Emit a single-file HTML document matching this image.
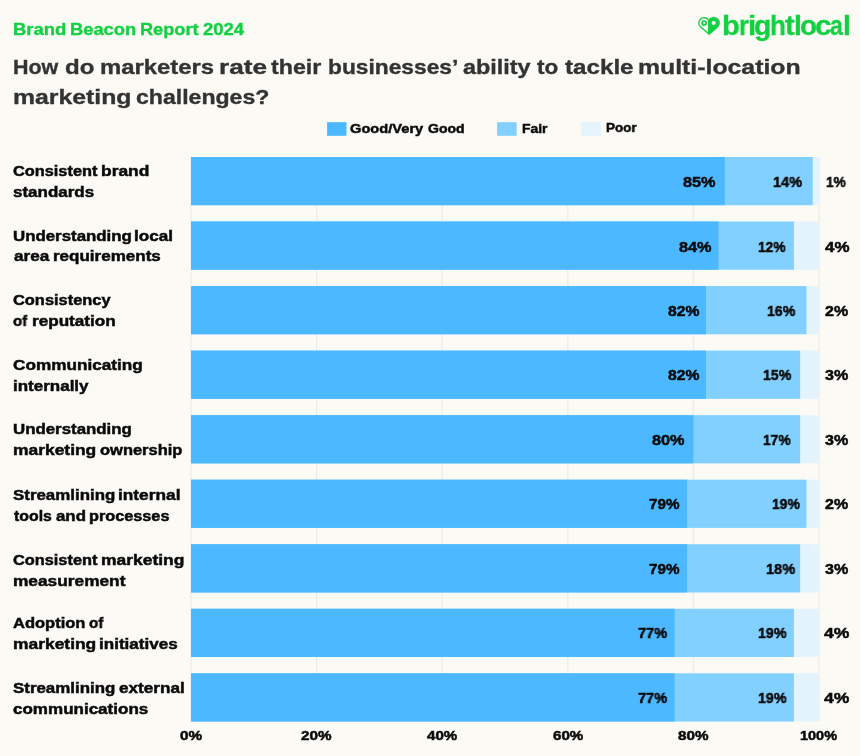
<!DOCTYPE html><html><head><meta charset="utf-8"><title>Brand Beacon Report 2024</title><style>
html,body{margin:0;padding:0}
body{width:860px;height:756px;background:#fbfaf5;position:relative;overflow:hidden;font-family:"Liberation Sans",sans-serif;}
.t{will-change:transform;position:absolute;white-space:nowrap;line-height:1;transform-origin:0 0;font-weight:700;}
.b{position:absolute;}
.g{position:absolute;width:1px;background:#ecebe7;top:157px;height:564.5px}
</style></head><body>
<svg class="b" style="left:0;top:0" width="860" height="756" viewBox="0 0 860 756">
<rect x="190.40" y="157" width="1.2" height="564.4" fill="#ecebe7"/>
<rect x="316.00" y="157" width="1.2" height="564.4" fill="#ecebe7"/>
<rect x="441.60" y="157" width="1.2" height="564.4" fill="#ecebe7"/>
<rect x="567.20" y="157" width="1.2" height="564.4" fill="#ecebe7"/>
<rect x="692.80" y="157" width="1.2" height="564.4" fill="#ecebe7"/>
<rect x="818.40" y="157" width="1.2" height="564.4" fill="#ecebe7"/>
<path d="M191.00 157.00H816.20Q818.70 157.00 818.70 159.50V202.70Q818.70 205.20 816.20 205.20H191.00Z" fill="#e3f4ff"/>
<rect x="191.00" y="157.00" width="621.72" height="48.2" fill="#82d0ff"/>
<rect x="191.00" y="157.00" width="533.80" height="48.2" fill="#4bb8ff"/>
<path d="M191.00 221.54H816.20Q818.70 221.54 818.70 224.04V267.24Q818.70 269.74 816.20 269.74H191.00Z" fill="#e3f4ff"/>
<rect x="191.00" y="221.54" width="602.88" height="48.2" fill="#82d0ff"/>
<rect x="191.00" y="221.54" width="527.52" height="48.2" fill="#4bb8ff"/>
<path d="M191.00 286.08H816.20Q818.70 286.08 818.70 288.58V331.78Q818.70 334.28 816.20 334.28H191.00Z" fill="#e3f4ff"/>
<rect x="191.00" y="286.08" width="615.44" height="48.2" fill="#82d0ff"/>
<rect x="191.00" y="286.08" width="514.96" height="48.2" fill="#4bb8ff"/>
<path d="M191.00 350.62H816.20Q818.70 350.62 818.70 353.12V396.32Q818.70 398.82 816.20 398.82H191.00Z" fill="#e3f4ff"/>
<rect x="191.00" y="350.62" width="609.16" height="48.2" fill="#82d0ff"/>
<rect x="191.00" y="350.62" width="514.96" height="48.2" fill="#4bb8ff"/>
<path d="M191.00 415.16H816.20Q818.70 415.16 818.70 417.66V460.86Q818.70 463.36 816.20 463.36H191.00Z" fill="#e3f4ff"/>
<rect x="191.00" y="415.16" width="609.16" height="48.2" fill="#82d0ff"/>
<rect x="191.00" y="415.16" width="502.40" height="48.2" fill="#4bb8ff"/>
<path d="M191.00 479.70H816.20Q818.70 479.70 818.70 482.20V525.40Q818.70 527.90 816.20 527.90H191.00Z" fill="#e3f4ff"/>
<rect x="191.00" y="479.70" width="615.44" height="48.2" fill="#82d0ff"/>
<rect x="191.00" y="479.70" width="496.12" height="48.2" fill="#4bb8ff"/>
<path d="M191.00 544.24H816.20Q818.70 544.24 818.70 546.74V589.94Q818.70 592.44 816.20 592.44H191.00Z" fill="#e3f4ff"/>
<rect x="191.00" y="544.24" width="609.16" height="48.2" fill="#82d0ff"/>
<rect x="191.00" y="544.24" width="496.12" height="48.2" fill="#4bb8ff"/>
<path d="M191.00 608.78H816.20Q818.70 608.78 818.70 611.28V654.48Q818.70 656.98 816.20 656.98H191.00Z" fill="#e3f4ff"/>
<rect x="191.00" y="608.78" width="602.88" height="48.2" fill="#82d0ff"/>
<rect x="191.00" y="608.78" width="483.56" height="48.2" fill="#4bb8ff"/>
<path d="M191.00 673.32H816.20Q818.70 673.32 818.70 675.82V719.02Q818.70 721.52 816.20 721.52H191.00Z" fill="#e3f4ff"/>
<rect x="191.00" y="673.32" width="602.88" height="48.2" fill="#82d0ff"/>
<rect x="191.00" y="673.32" width="483.56" height="48.2" fill="#4bb8ff"/>
</svg>
<svg class="b" style="left:0;top:110px" width="860" height="40" viewBox="0 110 860 40">
<rect x="327.1" y="122.2" width="19.4" height="13.6" fill="#4bb8ff"/>
<rect x="497.1" y="122.2" width="19.5" height="13.6" fill="#82d0ff"/>
<rect x="581.2" y="122.2" width="19.7" height="13.6" fill="#e3f4ff"/>
</svg>
<svg class="b" style="left:694px;top:12px" width="30" height="28" viewBox="694 12 30 28">
<path d="M708.75 20.36 A5.30 5.30 0 1 0 700.67 26.94 L708.75 33.80 Z" fill="none" stroke="#12d141" stroke-width="1.4" stroke-linejoin="round"/>
<circle cx="704.1" cy="23.0" r="2.0" fill="none" stroke="#12d141" stroke-width="1.7"/>
<path d="M708.90 19.30 A6.0 6.0 0 1 1 717.69 27.38 L708.90 35.20 Z" fill="#12d141" stroke="#12d141" stroke-width="0.3" stroke-linejoin="round"/>
<circle cx="713.7" cy="23.0" r="2.1" fill="#fbfaf5"/>
</svg>
<div class="t" id="t0" style="left:13.40px;top:21.00px;font-size:17px;color:#12d141;-webkit-text-stroke:0.35px #12d141;letter-spacing:0px;transform:scaleX(1.0846)">Brand </div>
<div class="t" id="t1" style="left:70.44px;top:21.00px;font-size:17px;color:#12d141;-webkit-text-stroke:0.35px #12d141;letter-spacing:0px;transform:scaleX(1.0777)">Beacon </div>
<div class="t" id="t2" style="left:139.99px;top:21.00px;font-size:17px;color:#12d141;-webkit-text-stroke:0.35px #12d141;letter-spacing:0px;transform:scaleX(1.0678)">Report </div>
<div class="t" id="t3" style="left:203.20px;top:21.00px;font-size:17px;color:#12d141;-webkit-text-stroke:0.35px #12d141;letter-spacing:0px;transform:scaleX(1.0883)">2024 </div>
<div class="t" id="t4" style="left:12.73px;top:56.00px;font-size:21px;color:#333;-webkit-text-stroke:0.35px #333;letter-spacing:0px;transform:scaleX(1.0212)">How </div>
<div class="t" id="t5" style="left:65.35px;top:56.00px;font-size:21px;color:#333;-webkit-text-stroke:0.35px #333;letter-spacing:0px;transform:scaleX(1.1459)">do </div>
<div class="t" id="t6" style="left:100.05px;top:56.00px;font-size:21px;color:#333;-webkit-text-stroke:0.35px #333;letter-spacing:0px;transform:scaleX(1.1364)">marketers </div>
<div class="t" id="t7" style="left:219.04px;top:56.00px;font-size:21px;color:#333;-webkit-text-stroke:0.35px #333;letter-spacing:0px;transform:scaleX(1.2472)">rate </div>
<div class="t" id="t8" style="left:271.04px;top:56.00px;font-size:21px;color:#333;-webkit-text-stroke:0.35px #333;letter-spacing:0px;transform:scaleX(1.1059)">their </div>
<div class="t" id="t9" style="left:327.77px;top:56.00px;font-size:21px;color:#333;-webkit-text-stroke:0.35px #333;letter-spacing:0px;transform:scaleX(1.0840)">businesses’ </div>
<div class="t" id="t10" style="left:463.02px;top:56.00px;font-size:21px;color:#333;-webkit-text-stroke:0.35px #333;letter-spacing:0px;transform:scaleX(1.1146)">ability </div>
<div class="t" id="t11" style="left:537.34px;top:56.00px;font-size:21px;color:#333;-webkit-text-stroke:0.35px #333;letter-spacing:0px;transform:scaleX(1.0722)">to </div>
<div class="t" id="t12" style="left:564.94px;top:56.00px;font-size:21px;color:#333;-webkit-text-stroke:0.35px #333;letter-spacing:0px;transform:scaleX(1.1515)">tackle </div>
<div class="t" id="t13" style="left:637.90px;top:56.00px;font-size:21px;color:#333;-webkit-text-stroke:0.35px #333;letter-spacing:0px;transform:scaleX(1.1814)">multi-location </div>
<div class="t" id="t14" style="left:12.66px;top:86.00px;font-size:21px;color:#333;-webkit-text-stroke:0.35px #333;letter-spacing:0px;transform:scaleX(1.1808)">marketing </div>
<div class="t" id="t15" style="left:136.19px;top:86.00px;font-size:21px;color:#333;-webkit-text-stroke:0.35px #333;letter-spacing:0px;transform:scaleX(1.0990)">challenges? </div>
<div class="t" id="t16" style="left:722.43px;top:12.00px;font-size:27.5px;color:#12d141;-webkit-text-stroke:0.3px #12d141;letter-spacing:0px;transform:scaleX(1.0604)">b </div>
<div class="t" id="t17" style="left:738.97px;top:12.00px;font-size:27.5px;color:#12d141;-webkit-text-stroke:0.3px #12d141;letter-spacing:0px;transform:scaleX(0.9175)">r </div>
<div class="t" id="t18" style="left:747.55px;top:12.00px;font-size:27.5px;color:#12d141;-webkit-text-stroke:0.3px #12d141;letter-spacing:0px;transform:scaleX(1.0766)">i </div>
<div class="t" id="t19" style="left:754.22px;top:12.00px;font-size:27.5px;color:#12d141;-webkit-text-stroke:0.3px #12d141;letter-spacing:0px;transform:scaleX(1.0309)">g </div>
<div class="t" id="t20" style="left:769.83px;top:12.00px;font-size:27.5px;color:#12d141;-webkit-text-stroke:0.3px #12d141;letter-spacing:0px;transform:scaleX(0.9480)">h </div>
<div class="t" id="t21" style="left:784.73px;top:12.00px;font-size:27.5px;color:#12d141;-webkit-text-stroke:0.3px #12d141;letter-spacing:0px;transform:scaleX(1.0635)">t </div>
<div class="t" id="t22" style="left:793.98px;top:12.00px;font-size:27.5px;color:#12d141;-webkit-text-stroke:0.3px #12d141;letter-spacing:0px;transform:scaleX(1.0363)">l </div>
<div class="t" id="t23" style="left:799.54px;top:12.00px;font-size:27.5px;color:#12d141;-webkit-text-stroke:0.3px #12d141;letter-spacing:0px;transform:scaleX(1.0154)">o </div>
<div class="t" id="t24" style="left:815.23px;top:12.00px;font-size:27.5px;color:#12d141;-webkit-text-stroke:0.3px #12d141;letter-spacing:0px;transform:scaleX(1.0885)">c </div>
<div class="t" id="t25" style="left:830.08px;top:12.00px;font-size:27.5px;color:#12d141;-webkit-text-stroke:0.3px #12d141;letter-spacing:0px;transform:scaleX(0.8363)">a </div>
<div class="t" id="t26" style="left:842.98px;top:12.00px;font-size:27.5px;color:#12d141;-webkit-text-stroke:0.3px #12d141;letter-spacing:0px;transform:scaleX(1.0363)">l </div>
<div class="t" id="t27" style="left:349.60px;top:122.00px;font-size:13.5px;color:#0a0a0a;-webkit-text-stroke:0.5px #0a0a0a;letter-spacing:0px;transform:scaleX(1.0846)">Good/Very </div>
<div class="t" id="t28" style="left:427.79px;top:122.00px;font-size:13.5px;color:#0a0a0a;-webkit-text-stroke:0.5px #0a0a0a;letter-spacing:0px;transform:scaleX(1.0400)">Good </div>
<div class="t" id="t29" style="left:521.73px;top:122.00px;font-size:13.5px;color:#0a0a0a;-webkit-text-stroke:0.5px #0a0a0a;letter-spacing:0px;transform:scaleX(1.0310)">Fair </div>
<div class="t" id="t30" style="left:606.29px;top:121.00px;font-size:13.5px;color:#0a0a0a;-webkit-text-stroke:0.5px #0a0a0a;letter-spacing:0px;transform:scaleX(0.9941)">Poor </div>
<div class="t" id="t31" style="left:13.43px;top:163.00px;font-size:15.5px;color:#0a0a0a;-webkit-text-stroke:0.5px #0a0a0a;letter-spacing:0px;transform:scaleX(1.0536)">Consistent </div>
<div class="t" id="t32" style="left:101.27px;top:163.00px;font-size:15.5px;color:#0a0a0a;-webkit-text-stroke:0.5px #0a0a0a;letter-spacing:0px;transform:scaleX(1.1226)">brand </div>
<div class="t" id="t33" style="left:13.04px;top:184.00px;font-size:15.5px;color:#0a0a0a;-webkit-text-stroke:0.5px #0a0a0a;letter-spacing:0px;transform:scaleX(1.0945)">standards </div>
<div class="t" id="t34" style="left:682.84px;top:174.00px;font-size:15px;color:#0a0a0a;-webkit-text-stroke:0.5px #0a0a0a;letter-spacing:0px;transform:scaleX(1.0838)">85% </div>
<div class="t" id="t35" style="left:773.29px;top:174.00px;font-size:15px;color:#0a0a0a;-webkit-text-stroke:0.5px #0a0a0a;letter-spacing:0px;transform:scaleX(0.9679)">14% </div>
<div class="t" id="t36" style="left:826.00px;top:174.00px;font-size:15px;color:#0a0a0a;-webkit-text-stroke:0.5px #0a0a0a;letter-spacing:0px;transform:scaleX(0.9184)">1% </div>
<div class="t" id="t37" style="left:13.08px;top:228.00px;font-size:15.5px;color:#0a0a0a;-webkit-text-stroke:0.5px #0a0a0a;letter-spacing:0px;transform:scaleX(1.0868)">Understanding </div>
<div class="t" id="t38" style="left:134.03px;top:228.00px;font-size:15.5px;color:#0a0a0a;-webkit-text-stroke:0.5px #0a0a0a;letter-spacing:0px;transform:scaleX(1.1034)">local </div>
<div class="t" id="t39" style="left:13.55px;top:248.00px;font-size:15.5px;color:#0a0a0a;-webkit-text-stroke:0.5px #0a0a0a;letter-spacing:0px;transform:scaleX(1.1082)">area </div>
<div class="t" id="t40" style="left:52.98px;top:248.00px;font-size:15.5px;color:#0a0a0a;-webkit-text-stroke:0.5px #0a0a0a;letter-spacing:0px;transform:scaleX(1.0976)">requirements </div>
<div class="t" id="t41" style="left:678.60px;top:239.00px;font-size:15px;color:#0a0a0a;-webkit-text-stroke:0.5px #0a0a0a;letter-spacing:0px;transform:scaleX(1.0838)">84% </div>
<div class="t" id="t42" style="left:757.94px;top:239.00px;font-size:15px;color:#0a0a0a;-webkit-text-stroke:0.5px #0a0a0a;letter-spacing:0px;transform:scaleX(0.9154)">12% </div>
<div class="t" id="t43" style="left:825.12px;top:239.00px;font-size:15px;color:#0a0a0a;-webkit-text-stroke:0.5px #0a0a0a;letter-spacing:0px;transform:scaleX(1.1304)">4% </div>
<div class="t" id="t44" style="left:13.36px;top:292.00px;font-size:15.5px;color:#0a0a0a;-webkit-text-stroke:0.5px #0a0a0a;letter-spacing:0px;transform:scaleX(1.0582)">Consistency </div>
<div class="t" id="t45" style="left:13.46px;top:313.00px;font-size:15.5px;color:#0a0a0a;-webkit-text-stroke:0.5px #0a0a0a;letter-spacing:0px;transform:scaleX(0.9652)">of </div>
<div class="t" id="t46" style="left:31.62px;top:313.00px;font-size:15.5px;color:#0a0a0a;-webkit-text-stroke:0.5px #0a0a0a;letter-spacing:0px;transform:scaleX(1.1052)">reputation </div>
<div class="t" id="t47" style="left:668.35px;top:303.00px;font-size:15px;color:#0a0a0a;-webkit-text-stroke:0.5px #0a0a0a;letter-spacing:0px;transform:scaleX(1.0449)">82% </div>
<div class="t" id="t48" style="left:767.32px;top:303.00px;font-size:15px;color:#0a0a0a;-webkit-text-stroke:0.5px #0a0a0a;letter-spacing:0px;transform:scaleX(0.9422)">16% </div>
<div class="t" id="t49" style="left:825.46px;top:303.00px;font-size:15px;color:#0a0a0a;-webkit-text-stroke:0.5px #0a0a0a;letter-spacing:0px;transform:scaleX(1.0653)">2% </div>
<div class="t" id="t50" style="left:13.03px;top:357.00px;font-size:15.5px;color:#0a0a0a;-webkit-text-stroke:0.5px #0a0a0a;letter-spacing:0px;transform:scaleX(1.1078)">Communicating </div>
<div class="t" id="t51" style="left:12.62px;top:378.00px;font-size:15.5px;color:#0a0a0a;-webkit-text-stroke:0.5px #0a0a0a;letter-spacing:0px;transform:scaleX(1.0963)">internally </div>
<div class="t" id="t52" style="left:668.35px;top:367.00px;font-size:15px;color:#0a0a0a;-webkit-text-stroke:0.5px #0a0a0a;letter-spacing:0px;transform:scaleX(1.0449)">82% </div>
<div class="t" id="t53" style="left:762.87px;top:367.00px;font-size:15px;color:#0a0a0a;-webkit-text-stroke:0.5px #0a0a0a;letter-spacing:0px;transform:scaleX(0.9413)">15% </div>
<div class="t" id="t54" style="left:825.10px;top:367.00px;font-size:15px;color:#0a0a0a;-webkit-text-stroke:0.5px #0a0a0a;letter-spacing:0px;transform:scaleX(1.0735)">3% </div>
<div class="t" id="t55" style="left:13.08px;top:421.00px;font-size:15.5px;color:#0a0a0a;-webkit-text-stroke:0.5px #0a0a0a;letter-spacing:0px;transform:scaleX(1.0868)">Understanding </div>
<div class="t" id="t56" style="left:12.75px;top:442.00px;font-size:15.5px;color:#0a0a0a;-webkit-text-stroke:0.5px #0a0a0a;letter-spacing:0px;transform:scaleX(1.1238)">marketing </div>
<div class="t" id="t57" style="left:99.82px;top:442.00px;font-size:15.5px;color:#0a0a0a;-webkit-text-stroke:0.5px #0a0a0a;letter-spacing:0px;transform:scaleX(1.0628)">ownership </div>
<div class="t" id="t58" style="left:651.55px;top:432.00px;font-size:15px;color:#0a0a0a;-webkit-text-stroke:0.5px #0a0a0a;letter-spacing:0px;transform:scaleX(1.0858)">80% </div>
<div class="t" id="t59" style="left:763.35px;top:432.00px;font-size:15px;color:#0a0a0a;-webkit-text-stroke:0.5px #0a0a0a;letter-spacing:0px;transform:scaleX(0.9190)">17% </div>
<div class="t" id="t60" style="left:825.10px;top:432.00px;font-size:15px;color:#0a0a0a;-webkit-text-stroke:0.5px #0a0a0a;letter-spacing:0px;transform:scaleX(1.0735)">3% </div>
<div class="t" id="t61" style="left:13.03px;top:487.00px;font-size:15.5px;color:#0a0a0a;-webkit-text-stroke:0.5px #0a0a0a;letter-spacing:0px;transform:scaleX(1.0901)">Streamlining </div>
<div class="t" id="t62" style="left:118.01px;top:487.00px;font-size:15.5px;color:#0a0a0a;-webkit-text-stroke:0.5px #0a0a0a;letter-spacing:0px;transform:scaleX(1.1152)">internal </div>
<div class="t" id="t63" style="left:13.77px;top:508.00px;font-size:15.5px;color:#0a0a0a;-webkit-text-stroke:0.5px #0a0a0a;letter-spacing:0px;transform:scaleX(1.0220)">tools </div>
<div class="t" id="t64" style="left:55.67px;top:508.00px;font-size:15.5px;color:#0a0a0a;-webkit-text-stroke:0.5px #0a0a0a;letter-spacing:0px;transform:scaleX(1.0864)">and </div>
<div class="t" id="t65" style="left:89.42px;top:508.00px;font-size:15.5px;color:#0a0a0a;-webkit-text-stroke:0.5px #0a0a0a;letter-spacing:0px;transform:scaleX(1.0488)">processes </div>
<div class="t" id="t66" style="left:649.32px;top:496.00px;font-size:15px;color:#0a0a0a;-webkit-text-stroke:0.5px #0a0a0a;letter-spacing:0px;transform:scaleX(1.0161)">79% </div>
<div class="t" id="t67" style="left:771.84px;top:496.00px;font-size:15px;color:#0a0a0a;-webkit-text-stroke:0.5px #0a0a0a;letter-spacing:0px;transform:scaleX(0.9272)">19% </div>
<div class="t" id="t68" style="left:825.46px;top:496.00px;font-size:15px;color:#0a0a0a;-webkit-text-stroke:0.5px #0a0a0a;letter-spacing:0px;transform:scaleX(1.0653)">2% </div>
<div class="t" id="t69" style="left:13.43px;top:552.00px;font-size:15.5px;color:#0a0a0a;-webkit-text-stroke:0.5px #0a0a0a;letter-spacing:0px;transform:scaleX(1.0536)">Consistent </div>
<div class="t" id="t70" style="left:101.08px;top:552.00px;font-size:15.5px;color:#0a0a0a;-webkit-text-stroke:0.5px #0a0a0a;letter-spacing:0px;transform:scaleX(1.1259)">marketing </div>
<div class="t" id="t71" style="left:12.93px;top:573.00px;font-size:15.5px;color:#0a0a0a;-webkit-text-stroke:0.5px #0a0a0a;letter-spacing:0px;transform:scaleX(1.1155)">measurement </div>
<div class="t" id="t72" style="left:649.32px;top:561.00px;font-size:15px;color:#0a0a0a;-webkit-text-stroke:0.5px #0a0a0a;letter-spacing:0px;transform:scaleX(1.0161)">79% </div>
<div class="t" id="t73" style="left:766.35px;top:561.00px;font-size:15px;color:#0a0a0a;-webkit-text-stroke:0.5px #0a0a0a;letter-spacing:0px;transform:scaleX(0.9723)">18% </div>
<div class="t" id="t74" style="left:825.10px;top:561.00px;font-size:15px;color:#0a0a0a;-webkit-text-stroke:0.5px #0a0a0a;letter-spacing:0px;transform:scaleX(1.0735)">3% </div>
<div class="t" id="t75" style="left:13.03px;top:615.00px;font-size:15.5px;color:#0a0a0a;-webkit-text-stroke:0.5px #0a0a0a;letter-spacing:0px;transform:scaleX(1.0652)">Adoption </div>
<div class="t" id="t76" style="left:88.86px;top:615.00px;font-size:15.5px;color:#0a0a0a;-webkit-text-stroke:0.5px #0a0a0a;letter-spacing:0px;transform:scaleX(0.9771)">of </div>
<div class="t" id="t77" style="left:12.75px;top:636.00px;font-size:15.5px;color:#0a0a0a;-webkit-text-stroke:0.5px #0a0a0a;letter-spacing:0px;transform:scaleX(1.1238)">marketing </div>
<div class="t" id="t78" style="left:99.13px;top:636.00px;font-size:15.5px;color:#0a0a0a;-webkit-text-stroke:0.5px #0a0a0a;letter-spacing:0px;transform:scaleX(1.0995)">initiatives </div>
<div class="t" id="t79" style="left:637.92px;top:625.00px;font-size:15px;color:#0a0a0a;-webkit-text-stroke:0.5px #0a0a0a;letter-spacing:0px;transform:scaleX(0.9696)">77% </div>
<div class="t" id="t80" style="left:758.04px;top:625.00px;font-size:15px;color:#0a0a0a;-webkit-text-stroke:0.5px #0a0a0a;letter-spacing:0px;transform:scaleX(0.9486)">19% </div>
<div class="t" id="t81" style="left:824.33px;top:625.00px;font-size:15px;color:#0a0a0a;-webkit-text-stroke:0.5px #0a0a0a;letter-spacing:0px;transform:scaleX(1.1701)">4% </div>
<div class="t" id="t82" style="left:13.03px;top:680.00px;font-size:15.5px;color:#0a0a0a;-webkit-text-stroke:0.5px #0a0a0a;letter-spacing:0px;transform:scaleX(1.0901)">Streamlining </div>
<div class="t" id="t83" style="left:118.88px;top:680.00px;font-size:15.5px;color:#0a0a0a;-webkit-text-stroke:0.5px #0a0a0a;letter-spacing:0px;transform:scaleX(1.1054)">external </div>
<div class="t" id="t84" style="left:13.03px;top:701.00px;font-size:15.5px;color:#0a0a0a;-webkit-text-stroke:0.5px #0a0a0a;letter-spacing:0px;transform:scaleX(1.0981)">communications </div>
<div class="t" id="t85" style="left:637.92px;top:690.00px;font-size:15px;color:#0a0a0a;-webkit-text-stroke:0.5px #0a0a0a;letter-spacing:0px;transform:scaleX(0.9696)">77% </div>
<div class="t" id="t86" style="left:758.04px;top:690.00px;font-size:15px;color:#0a0a0a;-webkit-text-stroke:0.5px #0a0a0a;letter-spacing:0px;transform:scaleX(0.9486)">19% </div>
<div class="t" id="t87" style="left:824.33px;top:690.00px;font-size:15px;color:#0a0a0a;-webkit-text-stroke:0.5px #0a0a0a;letter-spacing:0px;transform:scaleX(1.1701)">4% </div>
<div class="t" id="t88" style="left:179.93px;top:729.00px;font-size:13.5px;color:#0a0a0a;-webkit-text-stroke:0.5px #0a0a0a;letter-spacing:0px;transform:scaleX(1.1379)">0% </div>
<div class="t" id="t89" style="left:301.39px;top:729.00px;font-size:13.5px;color:#0a0a0a;-webkit-text-stroke:0.5px #0a0a0a;letter-spacing:0px;transform:scaleX(1.1304)">20% </div>
<div class="t" id="t90" style="left:426.88px;top:729.00px;font-size:13.5px;color:#0a0a0a;-webkit-text-stroke:0.5px #0a0a0a;letter-spacing:0px;transform:scaleX(1.1196)">40% </div>
<div class="t" id="t91" style="left:552.63px;top:729.00px;font-size:13.5px;color:#0a0a0a;-webkit-text-stroke:0.5px #0a0a0a;letter-spacing:0px;transform:scaleX(1.1227)">60% </div>
<div class="t" id="t92" style="left:678.09px;top:729.00px;font-size:13.5px;color:#0a0a0a;-webkit-text-stroke:0.5px #0a0a0a;letter-spacing:0px;transform:scaleX(1.1288)">80% </div>
<div class="t" id="t93" style="left:800.48px;top:729.00px;font-size:13.5px;color:#0a0a0a;-webkit-text-stroke:0.5px #0a0a0a;letter-spacing:0px;transform:scaleX(1.0729)">100% </div>
</body></html>
